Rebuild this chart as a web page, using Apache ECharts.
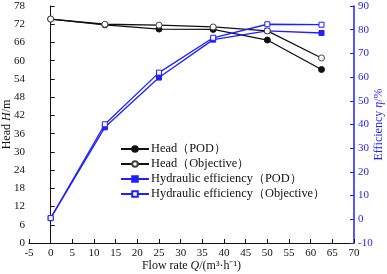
<!DOCTYPE html>
<html>
<head>
<meta charset="utf-8">
<script src="https://cdn.jsdelivr.net/npm/echarts@6/dist/echarts.min.js"></script>
<style>
  html, body { margin: 0; padding: 0; background: #fff; }
  #chart { width: 387px; height: 274px; }
</style>
</head>
<body>
<div id="chart"></div>
<script>
// flow rate points (m3/h)
const flowRates = [0, 12.5, 25, 37.5, 50, 62.5];
const headPOD = [73.7, 71.8, 70.4, 70.3, 66.8, 57.1];
const headObjective = [73.7, 72.0, 71.7, 71.1, 69.8, 60.9];
const effPOD = [0.5, 38.8, 59.8, 75.8, 79.5, 78.6];
const effObjective = [0.5, 40.1, 61.9, 76.6, 82.3, 82.1];
const seriesNames = ['Head（POD）', 'Head（Objective）', 'Hydraulic efficiency（POD）', 'Hydraulic efficiency（Objective）'];

const FONT = '"Liberation Serif", "Times New Roman", serif';
const BLUE = '#1f1fff';

const chart = echarts.init(document.getElementById('chart'));

function pairs(ys) {
  return flowRates.map((x, i) => [x, ys[i]]);
}

function mkSeries(name, ys, color, symbol, filled, yIdx) {
  return {
    name: name,
    type: 'line',
    yAxisIndex: yIdx,
    data: pairs(ys),
    symbol: symbol,
    symbolSize: symbol === 'rect' ? 5 : 6,
    showSymbol: true,
    lineStyle: { color: color, width: 1.3 },
    itemStyle: { color: filled ? color : '#fff', borderColor: filled ? color : (yIdx ? BLUE : '#444'), borderWidth: 1 },
    emphasis: { disabled: true },
    z: filled ? 2 : 3
  };
}

const option = {
  animation: false,
  textStyle: { fontFamily: FONT },
  grid: { left: 29, right: 33, top: 6, bottom: 31, outerBoundsMode: 'none', containLabel: false },
  legend: {
    orient: 'vertical',
    left: 120,
    top: 143,
    padding: 0,
    itemWidth: 28,
    itemHeight: 7,
    itemGap: 3,
    data: seriesNames,
    textStyle: { fontFamily: FONT, fontSize: 12.4, color: '#111', padding: [0, 0, 0, -3] }
  },
  xAxis: {
    type: 'value',
    min: -5, max: 70, interval: 5,
    name: '{a|Flow rate }{i|Q}{a|/(m³·h⁻¹)}',
    nameLocation: 'middle',
    nameGap: 17,
    nameMoveOverlap: false,
    nameTextStyle: {
      rich: {
        a: { fontFamily: FONT, fontSize: 12, color: '#111' },
        i: { fontFamily: FONT, fontSize: 12, color: '#111', fontStyle: 'italic' }
      }
    },
    axisLine: { lineStyle: { color: '#111', width: 1 } },
    axisTick: { inside: true, length: 4, lineStyle: { color: '#111' } },
    axisLabel: { fontFamily: FONT, fontSize: 11, color: '#111', margin: 5 },
    splitLine: { show: false }
  },
  yAxis: [
    {
      type: 'value',
      min: 0, max: 78, interval: 6,
      name: '{a|Head }{i|H}{a|/m}',
      nameLocation: 'middle',
      nameRotate: 90,
      nameGap: 16,
      nameMoveOverlap: false,
      nameTextStyle: {
        rich: {
          a: { fontFamily: FONT, fontSize: 12, color: '#111' },
          i: { fontFamily: FONT, fontSize: 12, color: '#111', fontStyle: 'italic' }
        }
      },
      axisLine: { show: true, lineStyle: { color: '#111', width: 1 } },
      axisTick: { show: true, inside: true, length: 4, lineStyle: { color: '#111' } },
      axisLabel: { fontFamily: FONT, fontSize: 11, color: '#111', margin: 4 },
      splitLine: { show: false }
    },
    {
      type: 'value',
      position: 'right',
      min: -10, max: 90, interval: 10,
      name: '{a|Efficiency }{i|η}{a|/%}',
      nameLocation: 'middle',
      nameRotate: 90,
      nameGap: 19,
      nameMoveOverlap: false,
      nameTextStyle: {
        rich: {
          a: { fontFamily: FONT, fontSize: 12, color: BLUE },
          i: { fontFamily: FONT, fontSize: 12, color: BLUE, fontStyle: 'italic' }
        }
      },
      axisLine: { show: true, lineStyle: { color: BLUE, width: 1.5 } },
      axisTick: { show: true, inside: true, length: 4, lineStyle: { color: BLUE } },
      axisLabel: { fontFamily: FONT, fontSize: 11, color: BLUE, margin: 4 },
      splitLine: { show: false }
    }
  ],
  series: [
    mkSeries(seriesNames[0], headPOD, '#111', 'circle', true, 0),
    mkSeries(seriesNames[1], headObjective, '#111', 'circle', false, 0),
    mkSeries(seriesNames[2], effPOD, BLUE, 'rect', true, 1),
    mkSeries(seriesNames[3], effObjective, BLUE, 'rect', false, 1)
  ]
};

chart.setOption(option);
</script>
</body>
</html>
